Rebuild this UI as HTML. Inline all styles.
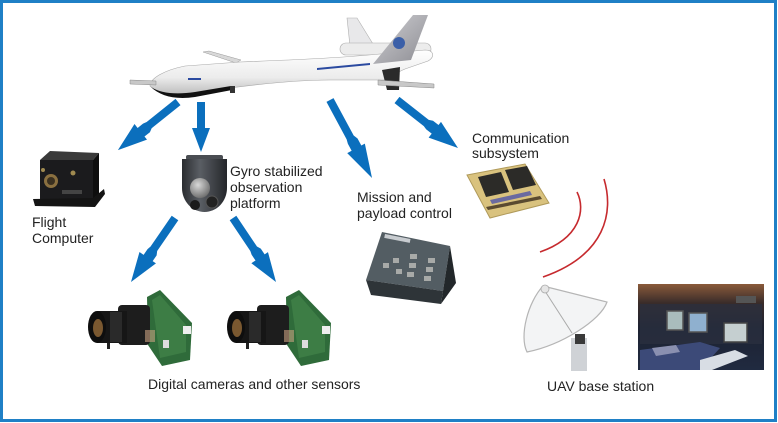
<!DOCTYPE html>
<html><head><meta charset="utf-8"><style>
html,body{margin:0;padding:0;background:#fff;}
svg{display:block;}
text{font-family:"Liberation Sans",Arial,sans-serif;font-size:14px;fill:#222;}
</style></head><body>
<svg width="778" height="423" viewBox="0 0 778 423" xmlns="http://www.w3.org/2000/svg">
<defs>
<linearGradient id="body" x1="0" y1="0" x2="0" y2="1">
<stop offset="0" stop-color="#ffffff"/><stop offset="0.6" stop-color="#ececec"/><stop offset="1" stop-color="#b9b9b9"/></linearGradient>
<linearGradient id="tail" x1="0" y1="0" x2="1" y2="1">
<stop offset="0" stop-color="#d0d0d4"/><stop offset="1" stop-color="#8c8c92"/></linearGradient>
<linearGradient id="gyro" x1="0" y1="0" x2="1" y2="0">
<stop offset="0" stop-color="#2a2c30"/><stop offset="0.4" stop-color="#5a5e64"/><stop offset="1" stop-color="#24262a"/></linearGradient>
<radialGradient id="lens" cx="0.4" cy="0.35" r="0.7">
<stop offset="0" stop-color="#d8d8d8"/><stop offset="1" stop-color="#6a6a6a"/></radialGradient>
<linearGradient id="room" x1="0" y1="0" x2="0" y2="1">
<stop offset="0" stop-color="#8a5a3a"/><stop offset="0.22" stop-color="#3a2c2a"/><stop offset="0.5" stop-color="#1d2231"/><stop offset="1" stop-color="#202a40"/></linearGradient>
<g id="arrowL">
<polygon points="0,-4 0.48,-4 0.53,-6 0.62,-6 0.62,-10 1,0 0.62,10 0.62,5 0.53,5 0.48,4 0,4"/>
</g>
</defs>

<rect x="1.5" y="1.5" width="774" height="419" fill="#fff" stroke="#1f80c6" stroke-width="3"/>

<!-- Drone -->
<g>
<polygon points="347,18 357,18 373,44 350,46" fill="#e8e8ea" stroke="#b0b0b0" stroke-width="0.6"/>
<rect x="340" y="43" width="91" height="12" rx="6" fill="#ececec" stroke="#aaa" stroke-width="0.6"/>
<polygon points="203,52 209,51 241,60 236,63" fill="#d8d8d8" stroke="#999" stroke-width="0.5"/>
<path d="M150,86 C150,78 165,70 185,66 L240,62 C290,60 340,58 380,54 L425,50 C434,50 435,57 428,61 L405,69 C395,73 390,78 385,80 L330,80 C300,80 260,84 230,88 L190,95 C175,97 158,94 150,86 Z" fill="url(#body)" stroke="#a8a8a8" stroke-width="0.6"/>
<path d="M151,87 C160,96 175,100 195,97 L232,90 L231,86 L195,92 C175,95 160,93 151,87 Z" fill="#111"/>
<polygon points="130,80 156,81 156,85 130,84" fill="#c8c8c8" stroke="#888" stroke-width="0.5"/>
<rect x="230" y="86" width="5" height="7" fill="#333"/>
<polygon points="382,70 400,67 399,90 387,90" fill="#2a2a2a"/>
<polygon points="378,80 434,84 434,88 378,85" fill="#c8c8c8" stroke="#888" stroke-width="0.5"/>
<polygon points="413,15 428,15 411,60 373,64" fill="url(#tail)"/>
<circle cx="399" cy="43" r="6" fill="#3b5fa8"/>
<rect x="188" y="78" width="13" height="2" fill="#2b4aa0"/>
<polygon points="317,68 370,63 370,65 317,70" fill="#2b4aa0"/>
</g>

<!-- Arrows -->
<g fill="#0b6fbd">
<g transform="translate(178,102) rotate(141.3) scale(77,1)"><use href="#arrowL"/></g>
<polygon points="197,102 205,102 205,128 210,128 201,152 192,128 197,128"/>
<g transform="translate(330,100) rotate(61.7) scale(88.6,1)"><use href="#arrowL"/></g>
<g transform="translate(397,100) rotate(38.2) scale(77.6,1)"><use href="#arrowL"/></g>
<g transform="translate(175,218) rotate(124.5) scale(77.7,1)"><use href="#arrowL"/></g>
<g transform="translate(233,218) rotate(56.1) scale(77.1,1)"><use href="#arrowL"/></g>
</g>

<!-- Flight computer -->
<g>
<polygon points="40,160 50,151 99,153 93,160" fill="#3a3a3a"/>
<polygon points="40,160 93,160 93,201 40,203" fill="#1b1b1d"/>
<polygon points="93,160 99,153 99,195 93,201" fill="#0e0e0e"/>
<polygon points="33,199 93,198 104,189 105,194 95,207 35,206" fill="#141414"/>
<circle cx="51" cy="181" r="7" fill="#8a7040"/>
<circle cx="51" cy="181" r="4" fill="#3a3020"/>
<circle cx="73" cy="173" r="2.5" fill="#a08a50"/>
<circle cx="43" cy="170" r="2" fill="#a08a50"/>
<rect x="62" y="190" width="20" height="4" fill="#444"/>
</g>

<!-- Gyro -->
<g>
<rect x="186" y="155" width="37" height="5" rx="2" fill="#4a4d52"/>
<path d="M182,159 L227,159 L227,188 A22.5,24 0 0 1 182,188 Z" fill="url(#gyro)"/>
<circle cx="200" cy="188" r="10" fill="url(#lens)"/>
<circle cx="195" cy="205" r="5" fill="#1a1a1a"/>
<circle cx="212" cy="202" r="6" fill="#222" stroke="#555" stroke-width="1"/>
</g>

<!-- Mission box -->
<g>
<polygon points="382,232 450,246 443,291 366,280" fill="#535d63"/>
<polygon points="366,280 443,291 441,304 371,295" fill="#2e3438"/>
<polygon points="450,246 456,283 441,304 443,291" fill="#22272a"/>
<rect x="385" y="234" width="26" height="4" fill="#c8ccd0" transform="rotate(11 385 234)"/>
<g fill="#a8aaa8">
<rect x="383" y="263" width="6" height="5"/><rect x="393" y="258" width="6" height="5"/>
<rect x="396" y="269" width="6" height="5"/><rect x="410" y="254" width="7" height="5"/>
<rect x="409" y="263" width="7" height="5"/><rect x="407" y="272" width="7" height="5"/>
<rect x="428" y="258" width="7" height="5"/><rect x="426" y="267" width="7" height="5"/>
<rect x="424" y="276" width="7" height="5"/>
</g>
</g>

<!-- Comm board -->
<g>
<polygon points="467,175 525,164 549,203 490,218" fill="#d9c27e" stroke="#b09a5a" stroke-width="1"/>
<polygon points="478,177 501,172 509,192 486,197" fill="#2c2b28"/>
<polygon points="505,170 527,166 536,185 513,190" fill="#2c2b28"/>
<polygon points="490,200 530,191 532,195 492,204" fill="#6a6aa0"/>
<polygon points="486,207 540,196 542,199 488,210" fill="#5a4a30"/>
</g>

<!-- Signal arcs -->
<g fill="none" stroke="#c62a2e" stroke-width="1.6">
<path d="M577,192 C586,210 580,238 540,252"/>
<path d="M604,179 C614,212 606,255 543,277"/>
</g>

<!-- Cameras -->
<g id="cam">
<polygon points="147,297 160,290 192,323 190,360 162,366 148,345" fill="#2f6b3a"/>
<polygon points="152,300 160,295 186,325 186,352 160,358" fill="#3d7d45"/>
<rect x="183" y="326" width="8" height="8" fill="#eee"/>
<rect x="163" y="340" width="6" height="8" fill="#ddd"/>
<rect x="118" y="305" width="32" height="40" rx="4" fill="#1d1d1d"/>
<rect x="97" y="311" width="30" height="32" fill="#161616"/>
<rect x="110" y="312" width="12" height="30" fill="#2a2a2a"/>
<ellipse cx="97" cy="327" rx="9" ry="16" fill="#0e0e0e"/>
<ellipse cx="98" cy="328" rx="5" ry="9" fill="#7a5830"/>
<rect x="107" y="343" width="3" height="6" fill="#222"/>
<rect x="145" y="330" width="10" height="12" fill="#c8a080" opacity="0.6"/>
</g>
<use href="#cam" transform="translate(139,0)"/>

<!-- Dish -->
<g>
<rect x="571" y="338" width="16" height="33" fill="#cfd2d6"/>
<rect x="575" y="334" width="10" height="10" fill="#3a3a3a"/>
<path d="M543,286 L607,302 C601,320 562,345 527,352 C519,336 528,302 543,286 Z" fill="#f3f4f5" stroke="#b5b5b5" stroke-width="1.2"/>
<line x1="543" y1="288" x2="572" y2="333" stroke="#aaa" stroke-width="1"/>
<circle cx="545" cy="289" r="4" fill="#e5e5e5" stroke="#aaa" stroke-width="0.8"/>
</g>

<!-- Control room -->
<g>
<rect x="638" y="284" width="126" height="86" fill="url(#room)"/>
<rect x="640" y="304" width="122" height="40" fill="#2b3040" opacity="0.7"/>
<rect x="667" y="311" width="16" height="19" fill="#a9bcbc" stroke="#555" stroke-width="1.5"/>
<rect x="689" y="313" width="18" height="19" fill="#8fb0cf" stroke="#555" stroke-width="1.5"/>
<rect x="724" y="323" width="23" height="19" fill="#c5cfd0" stroke="#444" stroke-width="1.5"/>
<polygon points="640,350 700,342 720,348 700,370 640,370" fill="#3c4a78"/>
<polygon points="652,348 676,345 680,352 656,356" fill="#8a90b0"/>
<polygon points="700,360 735,350 748,356 712,370 700,370" fill="#d8dde4"/>
<rect x="736" y="296" width="20" height="7" fill="#555"/>
</g>

<!-- Labels -->
<text x="230" y="176">Gyro stabilized</text>
<text x="230" y="192">observation</text>
<text x="230" y="208">platform</text>
<text x="32" y="227">Flight</text>
<text x="32" y="243">Computer</text>
<text x="357" y="202">Mission and</text>
<text x="357" y="218">payload control</text>
<text x="472" y="143">Communication</text>
<text x="472" y="158">subsystem</text>
<text x="148" y="389">Digital cameras and other sensors</text>
<text x="547" y="391">UAV base station</text>
</svg>
</body></html>
